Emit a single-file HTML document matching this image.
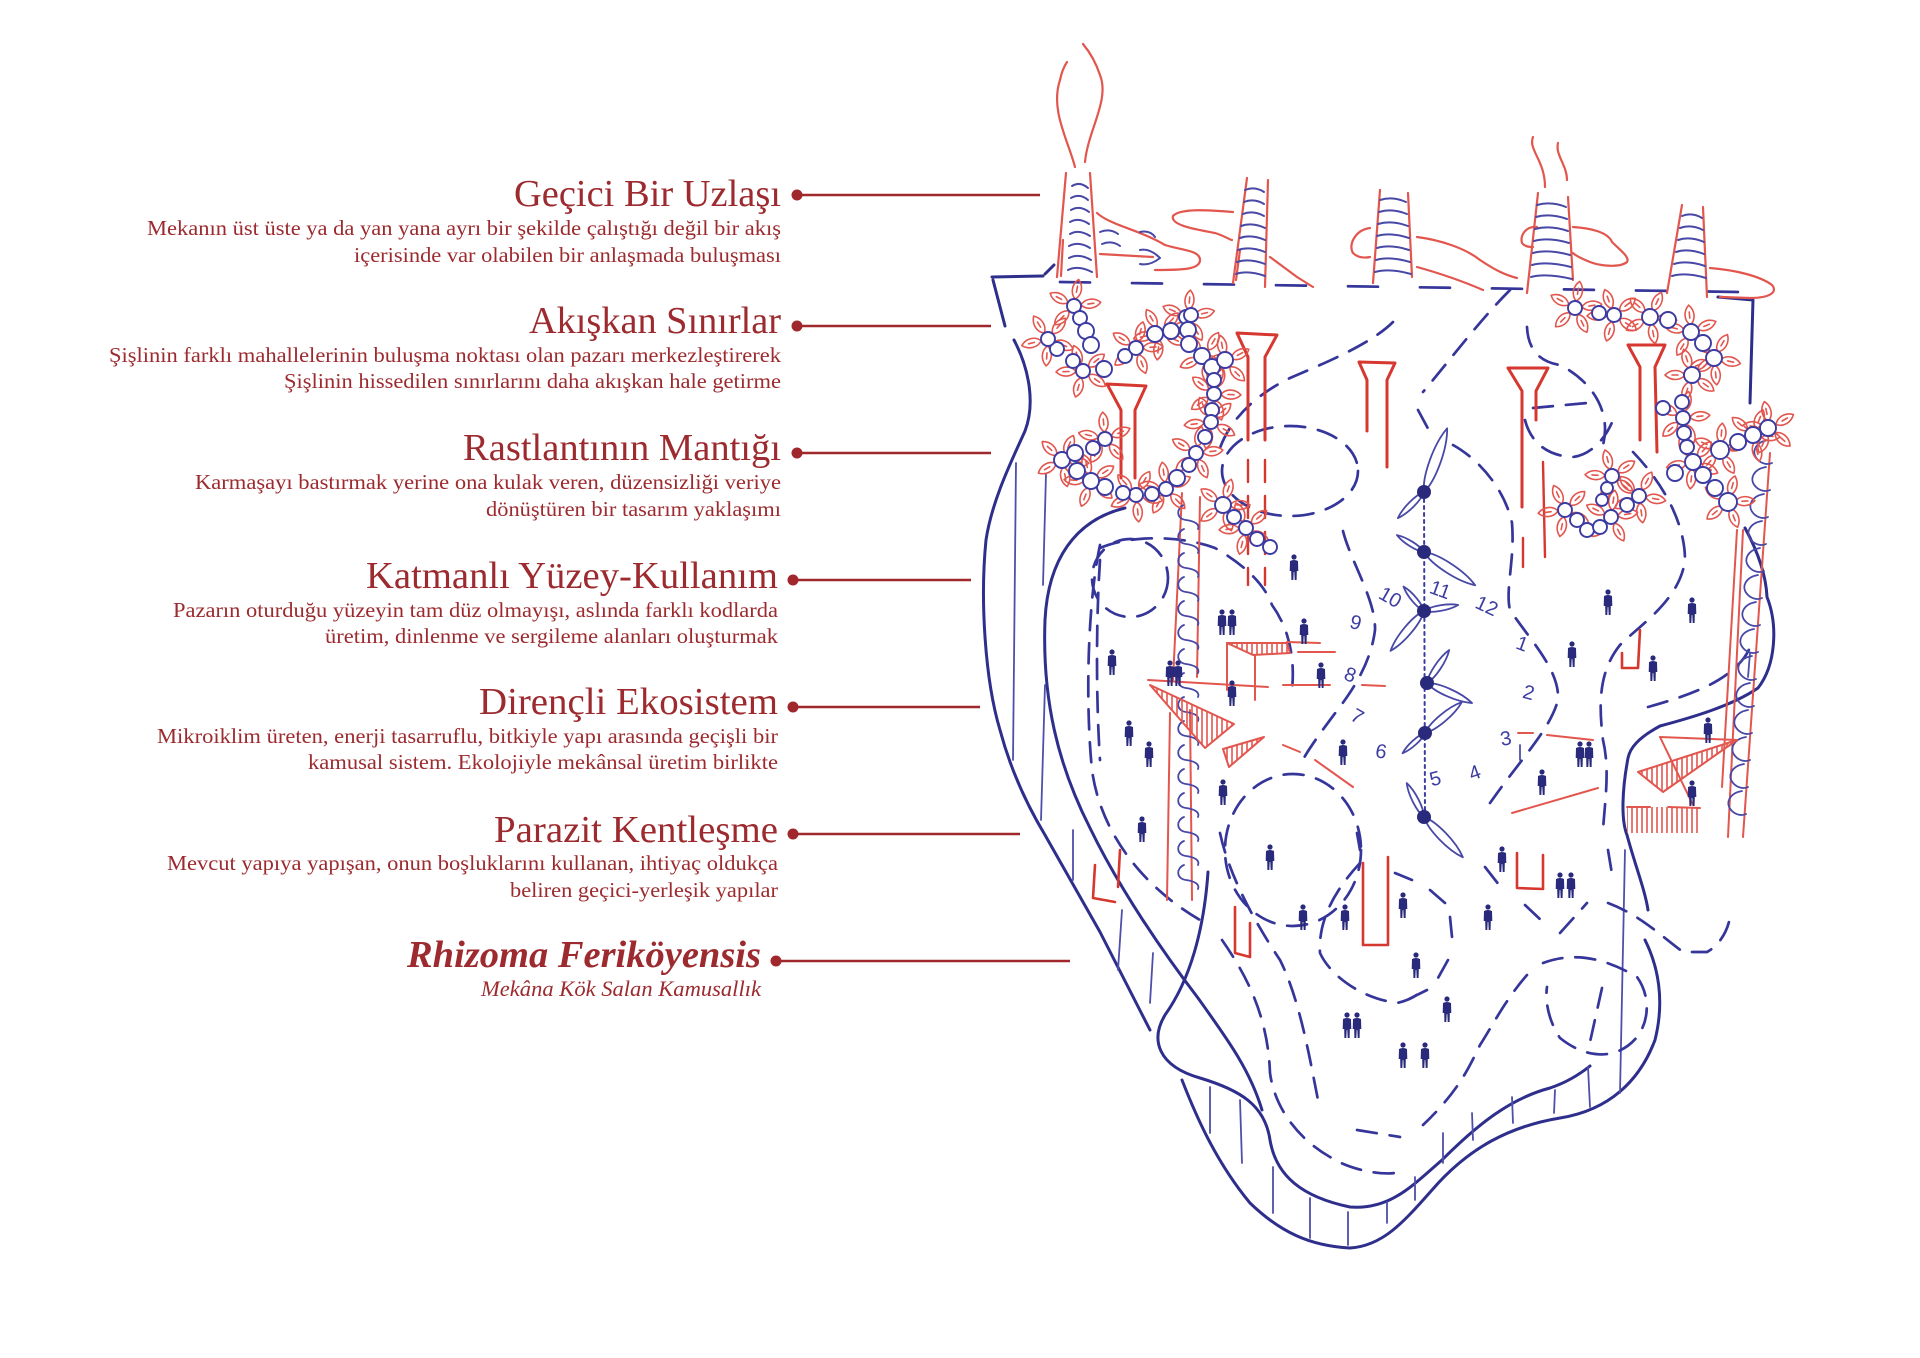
<!DOCTYPE html>
<html><head><meta charset="utf-8"><style>html,body{margin:0;padding:0;background:#fff}svg{display:block}</style></head>
<body>
<svg width="1920" height="1358" viewBox="0 0 1920 1358" xmlns="http://www.w3.org/2000/svg" xmlns:xlink="http://www.w3.org/1999/xlink">
<defs>
<pattern id="hatch" width="5" height="10" patternUnits="userSpaceOnUse"><line x1="2" y1="0" x2="2" y2="10" stroke="#e2564e" stroke-width="1.6"/></pattern>
<g id="pet"><path d="M0,-7 C6,-12 6,-21 0,-27 C-6,-21 -6,-12 0,-7 Z M0,-14 L0,-20" fill="none" stroke="#e2564e" stroke-width="1.6"/></g>
<g id="fl">
<use href="#pet" xlink:href="#pet"/>
<use href="#pet" xlink:href="#pet" transform="rotate(72)"/>
<use href="#pet" xlink:href="#pet" transform="rotate(144)"/>
<use href="#pet" xlink:href="#pet" transform="rotate(216)"/>
<use href="#pet" xlink:href="#pet" transform="rotate(288)"/>
</g>
<g id="pp" fill="#2a2a7c"><circle cx="0" cy="-23" r="2.6"/><path d="M-4,-19 Q0,-21 4,-19 L4.3,-9 L2.8,-9 L2.6,0 L0.7,0 L0.3,-8 L-0.3,-8 L-0.7,0 L-2.6,0 L-2.8,-9 L-4.3,-9 Z"/></g>
<path id="bl" d="M0,0 C6,-12 6,-40 0,-56 C-6,-40 -6,-12 0,0 Z" fill="none" stroke="#4848a6" stroke-width="1.8" vector-effect="non-scaling-stroke"/>
</defs>

<!-- ================= TEXT ================= -->
<g fill="#9c2a2e" font-family="'Liberation Serif', serif" text-anchor="end">
<text x="781" y="206" font-size="38" textLength="267" lengthAdjust="spacingAndGlyphs">Geçici Bir Uzlaşı</text>
<text x="781" y="235" font-size="21" textLength="634" lengthAdjust="spacingAndGlyphs">Mekanın üst üste ya da yan yana ayrı bir şekilde çalıştığı değil bir akış</text>
<text x="781" y="262" font-size="21" textLength="427" lengthAdjust="spacingAndGlyphs">içerisinde var olabilen bir anlaşmada buluşması</text>

<text x="781" y="333" font-size="38" textLength="252" lengthAdjust="spacingAndGlyphs">Akışkan Sınırlar</text>
<text x="781" y="362" font-size="21" textLength="672" lengthAdjust="spacingAndGlyphs">Şişlinin farklı mahallelerinin buluşma noktası olan pazarı merkezleştirerek</text>
<text x="781" y="388" font-size="21" textLength="497" lengthAdjust="spacingAndGlyphs">Şişlinin hissedilen sınırlarını daha akışkan hale getirme</text>

<text x="781" y="460" font-size="38" textLength="318" lengthAdjust="spacingAndGlyphs">Rastlantının Mantığı</text>
<text x="781" y="489" font-size="21" textLength="586" lengthAdjust="spacingAndGlyphs">Karmaşayı bastırmak yerine ona kulak veren, düzensizliği veriye</text>
<text x="781" y="516" font-size="21" textLength="295" lengthAdjust="spacingAndGlyphs">dönüştüren bir tasarım yaklaşımı</text>

<text x="778" y="588" font-size="38" textLength="412" lengthAdjust="spacingAndGlyphs">Katmanlı Yüzey-Kullanım</text>
<text x="778" y="617" font-size="21" textLength="605" lengthAdjust="spacingAndGlyphs">Pazarın oturduğu yüzeyin tam düz olmayışı, aslında farklı kodlarda</text>
<text x="778" y="643" font-size="21" textLength="453" lengthAdjust="spacingAndGlyphs">üretim, dinlenme ve sergileme alanları oluşturmak</text>

<text x="778" y="714" font-size="38" textLength="299" lengthAdjust="spacingAndGlyphs">Dirençli Ekosistem</text>
<text x="778" y="743" font-size="21" textLength="621" lengthAdjust="spacingAndGlyphs">Mikroiklim üreten, enerji tasarruflu, bitkiyle yapı arasında geçişli bir</text>
<text x="778" y="769" font-size="21" textLength="470" lengthAdjust="spacingAndGlyphs">kamusal sistem. Ekolojiyle mekânsal üretim birlikte</text>

<text x="778" y="842" font-size="38" textLength="284" lengthAdjust="spacingAndGlyphs">Parazit Kentleşme</text>
<text x="778" y="870" font-size="21" textLength="611" lengthAdjust="spacingAndGlyphs">Mevcut yapıya yapışan, onun boşluklarını kullanan, ihtiyaç oldukça</text>
<text x="778" y="897" font-size="21" textLength="268" lengthAdjust="spacingAndGlyphs">beliren geçici-yerleşik yapılar</text>

<text x="761" y="967" font-size="38" font-weight="bold" font-style="italic" textLength="354" lengthAdjust="spacingAndGlyphs">Rhizoma Feriköyensis</text>
<text x="761" y="996" font-size="22" font-style="italic" textLength="280" lengthAdjust="spacingAndGlyphs">Mekâna Kök Salan Kamusallık</text>
</g>

<g fill="#a0282c" stroke="none">
<circle cx="797" cy="195" r="5.5"/><circle cx="797" cy="326" r="5.5"/><circle cx="797" cy="453" r="5.5"/>
<circle cx="793" cy="580" r="5.5"/><circle cx="793" cy="707" r="5.5"/><circle cx="793" cy="834" r="5.5"/>
<circle cx="776" cy="961" r="5.5"/>
</g>
<g stroke="#a0282c" stroke-width="2.6">
<line x1="797" y1="195" x2="1040" y2="195"/>
<line x1="797" y1="326" x2="991" y2="326"/>
<line x1="797" y1="453" x2="991" y2="453"/>
<line x1="793" y1="580" x2="971" y2="580"/>
<line x1="793" y1="707" x2="980" y2="707"/>
<line x1="793" y1="834" x2="1020" y2="834"/>
<line x1="776" y1="961" x2="1070" y2="961"/>
</g>

<!-- ================= DRAWING ================= -->
<g fill="none" stroke-linecap="round" stroke-linejoin="round">

<!-- thick blue outlines -->
<g stroke="#2e2e8c" stroke-width="3">
<path d="M992,277 L1043,276 M1045,274 L1054,265"/>
<path d="M993,280 Q999,303 1005,326"/>
<path d="M1014,340 C1030,370 1035,405 1025,431 C1012,460 992,500 986,540 C980,600 985,680 1000,730 C1012,775 1030,810 1045,835 L1100,932 L1150,1030"/>
<path d="M1125,508 C1075,520 1048,560 1045,620 C1042,700 1058,765 1090,828 C1120,890 1165,955 1198,998 C1228,1040 1250,1070 1262,1110"/>
<path d="M1208,872 C1204,930 1190,980 1165,1015 C1150,1040 1158,1066 1200,1078 C1240,1090 1265,1105 1270,1140 C1276,1176 1302,1197 1350,1207 C1390,1210 1412,1186 1442,1160 C1480,1122 1512,1098 1550,1088 C1568,1082 1580,1074 1590,1066"/>
<path d="M1182,1080 C1196,1116 1216,1162 1250,1203 C1280,1232 1310,1246 1350,1248 C1382,1246 1402,1224 1432,1190 C1470,1146 1512,1126 1560,1118 C1610,1110 1640,1080 1655,1040 C1665,1000 1658,966 1645,940"/>
<path d="M1745,528 C1758,552 1766,575 1767,597 C1778,625 1776,665 1758,688 C1732,706 1690,718 1660,726 C1638,738 1630,748 1628,758 C1622,790 1621,820 1627,835 C1635,865 1645,890 1648,910"/>
<path d="M1718,297 L1753,300 L1750,403"/>
</g>

<!-- thin blue lines -->
<g stroke="#4f4fab" stroke-width="1.8">
<path d="M1016,463 L1013,760"/>
<path d="M1046,474 L1043,585 M1045,685 L1041,820"/>
<path d="M1073,830 L1073,880 M1122,910 L1118,970 M1153,953 L1150,1003"/>
<path d="M1210,1087 L1210,1133 M1240,1100 L1242,1163 M1273,1167 L1273,1213 M1310,1198 L1310,1238 M1348,1212 L1348,1245 M1387,1202 L1387,1223"/>
<path d="M1588,1067 L1590,1107 M1555,1090 L1554,1113 M1512,1097 L1513,1123 M1472,1113 L1473,1140 M1443,1133 L1443,1163 M1415,1177 L1415,1200"/>
<path d="M1625,850 L1620,1093"/>
<path d="M1750,653 L1748,677 M1520,745 L1520,760"/>
</g>

<!-- dashed blue -->
<g stroke="#35359a" stroke-width="2.7" stroke-dasharray="20 13">
<path d="M1060,282 L1740,292" stroke-dasharray="30 42"/>
<path d="M1510,290 C1480,320 1450,360 1423,392"/>
<path d="M1393,322 C1370,345 1320,365 1290,378 C1255,395 1230,420 1220,448"/>
<path d="M1527,327 C1528,350 1540,362 1560,365 C1590,380 1612,410 1603,445"/>
<path d="M1418,410 L1432,436 M1533,408 L1587,403"/>
<ellipse cx="1290" cy="471" rx="68" ry="45"/>
<ellipse cx="1130" cy="578" rx="38" ry="39"/>
<path d="M1100,545 C1088,600 1085,700 1092,770 C1100,830 1140,885 1200,920"/>
<path d="M1100,548 C1130,535 1180,535 1215,548 C1245,565 1265,585 1272,605 C1290,630 1295,660 1292,690"/>
<path d="M1453,445 C1480,460 1505,490 1512,523 C1515,560 1505,590 1510,610 C1530,640 1560,670 1558,700 C1550,730 1520,760 1490,803"/>
<path d="M1525,420 C1530,440 1545,456 1573,457 C1590,455 1605,440 1613,420"/>
<path d="M1633,452 C1660,480 1685,520 1685,560 C1680,600 1640,625 1620,645 C1600,670 1598,700 1603,740 C1610,770 1605,800 1603,830"/>
<path d="M1648,707 C1680,698 1710,688 1730,672 C1745,660 1750,650 1752,640"/>
<path d="M1343,531 C1350,560 1376,600 1375,630 C1370,670 1345,700 1330,720 C1315,740 1305,755 1300,765"/>
<ellipse cx="1293" cy="850" rx="68" ry="76"/>
<path d="M1220,833 C1230,880 1260,930 1280,960 C1300,1000 1310,1060 1318,1100"/>
<path d="M1222,940 C1250,980 1268,1020 1270,1073 C1275,1110 1300,1140 1330,1157 C1350,1170 1380,1175 1395,1173"/>
<path d="M1357,1130 L1400,1137"/>
<path d="M1360,863 C1335,890 1318,920 1320,953 C1330,975 1360,998 1397,1003 C1410,1000 1418,995 1422,990"/>
<path d="M1395,873 L1412,880 M1357,833 L1360,850"/>
<path d="M1543,963 C1570,953 1600,955 1637,977 C1650,995 1650,1020 1637,1037 C1620,1058 1590,1062 1560,1038 C1548,1020 1545,1000 1547,987"/>
<path d="M1527,975 C1505,1000 1490,1030 1480,1045 C1470,1065 1460,1090 1423,1125"/>
<path d="M1602,988 L1590,1042"/>
<path d="M1608,903 C1640,915 1660,935 1683,952 L1707,952 C1720,945 1728,930 1730,917"/>
<path d="M1608,850 L1613,880 M1485,867 L1503,890 M1525,905 L1543,922 M1560,933 L1587,903 M1450,917 L1452,937 M1430,890 L1445,903 M1448,960 L1438,978 M1427,990 L1407,1000"/>
<path d="M1100,560 C1096,620 1096,700 1100,760"/>
</g>

<!-- chimneys -->
<g stroke="#e2564e" stroke-width="2.2">
<path d="M1066,173 L1057,277 M1063,240 L1061,276 M1090,173 L1097,277"/>
<path d="M1075,167 C1068,140 1050,110 1060,80 C1062,70 1065,65 1067,62 M1085,162 C1088,130 1110,100 1100,75 C1095,60 1088,50 1083,44"/>
<path d="M1097,213 C1110,225 1140,230 1165,245 C1180,250 1200,250 1200,260 C1200,270 1180,270 1155,270 M1100,254 L1153,257"/>
<path d="M1233,212 C1210,210 1180,208 1173,216 C1170,226 1200,230 1215,233 C1225,236 1230,240 1232,240"/>
<path d="M1247,178 L1233,283 M1240,250 L1236,280 M1268,180 L1265,287"/>
<path d="M1270,257 L1297,277 L1313,287"/>
<path d="M1380,190 L1373,283 M1408,193 L1412,277"/>
<path d="M1370,228 C1355,230 1348,245 1353,253 C1358,258 1365,258 1370,257"/>
<path d="M1417,237 C1440,240 1465,248 1480,260 C1495,270 1505,275 1517,278 M1417,267 C1435,272 1460,280 1483,290"/>
<path d="M1538,193 L1527,293 M1568,197 L1573,280"/>
<path d="M1533,137 C1528,150 1545,160 1545,187 M1558,143 C1555,155 1567,165 1567,180"/>
<path d="M1537,227 C1525,226 1520,236 1522,243 C1525,247 1530,247 1533,247"/>
<path d="M1573,227 C1590,228 1608,232 1612,242 C1620,250 1630,257 1627,262 C1620,268 1600,266 1590,262 C1580,258 1575,255 1573,253"/>
<path d="M1682,205 L1667,293 M1703,207 L1707,297"/>
<path d="M1710,268 C1735,270 1760,276 1772,285 C1778,292 1770,298 1750,298 L1720,297"/>
</g>
<g stroke="#4848a6" stroke-width="2">
<path d="M1072,186 Q1080,181 1088,188 M1071,198 Q1080,193 1088,200 M1071,210 Q1080,205 1089,212 M1070,222 Q1079,217 1089,224 M1070,234 Q1079,229 1090,236 M1069,246 Q1079,241 1090,248 M1069,258 Q1079,253 1091,260 M1068,270 Q1078,265 1092,272"/>
<path d="M1245,190 Q1255,186 1264,192 M1244,202 Q1254,198 1264,204 M1243,214 Q1253,210 1264,216 M1241,226 Q1252,222 1265,228 M1240,238 Q1251,234 1265,240 M1238,250 Q1250,246 1265,252 M1237,262 Q1249,258 1265,264 M1236,274 Q1248,270 1265,276"/>
<path d="M1380,200 Q1393,196 1406,202 M1379,212 Q1392,208 1407,214 M1378,224 Q1392,220 1408,226 M1377,236 Q1391,232 1409,238 M1377,248 Q1391,244 1409,250 M1376,260 Q1390,256 1410,262 M1375,272 Q1390,268 1411,274"/>
<path d="M1537,205 Q1551,201 1566,207 M1536,217 Q1550,213 1567,219 M1535,229 Q1550,225 1568,231 M1534,241 Q1549,237 1569,243 M1533,253 Q1548,249 1570,255 M1532,265 Q1547,261 1571,267 M1531,277 Q1546,273 1572,279"/>
<path d="M1682,216 Q1692,212 1702,218 M1680,228 Q1691,224 1703,230 M1678,240 Q1690,236 1704,242 M1676,252 Q1688,248 1704,254 M1674,264 Q1687,260 1705,266 M1672,276 Q1686,272 1706,278"/>
<path d="M1100,232 Q1110,228 1118,234 M1140,232 Q1150,230 1155,237 M1102,244 Q1112,240 1120,246 M1140,250 Q1150,248 1160,258 Q1150,266 1140,264"/>
</g>

<!-- goblets -->
<g stroke="#d6372f" stroke-width="3">
<path d="M1107,384 L1146,386 L1135,410 L1135,478 M1107,384 L1121,410 L1121,478"/>
<path d="M1237,333 L1277,335 L1265,357 L1265,440 M1237,333 L1248,357 L1248,440"/>
<path d="M1248,460 L1248,585 M1265,460 L1265,585" stroke-dasharray="22 14" stroke-width="2.4"/>
<path d="M1359,362 L1395,363 L1387,380 L1387,467 M1359,362 L1367,380 L1367,431"/>
<path d="M1508,368 L1548,368 L1536,391 L1536,420 M1508,368 L1522,391 L1522,507"/>
<path d="M1543,462 L1545,557 M1523,538 L1523,567" stroke-width="2.4"/>
<path d="M1628,345 L1665,345 L1655,367 L1657,452 M1628,345 L1640,367 L1640,440"/>
</g>

<!-- ladders -->
<g stroke="#e2564e" stroke-width="2">
<path d="M1182,493 L1173,680 M1200,497 L1197,677 M1170,713 L1167,900 M1190,710 L1192,900"/>
<path d="M1770,453 L1743,837 M1743,530 L1728,837 M1737,530 L1722,787"/>
</g>
<g stroke="#4848a6" stroke-width="1.8">
<path d="M1184,505 c-8,3 -8,14 2,15 c8,1 14,4 12,9 m-14,0 c-8,3 -8,14 2,15 c8,1 14,4 12,9 m-14,0 c-8,3 -8,14 2,15 c8,1 14,4 12,9 m-14,0 c-8,3 -8,14 2,15 c8,1 14,4 12,9 m-14,0 c-8,3 -8,14 2,15 c8,1 14,4 12,9 m-14,0 c-8,3 -8,14 2,15 c8,1 14,4 12,9 m-14,0 c-8,3 -8,14 2,15 c8,1 14,4 12,9 m-14,0 c-8,3 -8,14 2,15 c8,1 14,4 12,9 m-14,0 c-8,3 -8,14 2,15 c8,1 14,4 12,9 m-14,0 c-8,3 -8,14 2,15 c8,1 14,4 12,9 m-14,0 c-8,3 -8,14 2,15 c8,1 14,4 12,9 m-14,0 c-8,3 -8,14 2,15 c8,1 14,4 12,9 m-14,0 c-8,3 -8,14 2,15 c8,1 14,4 12,9 m-14,0 c-8,3 -8,14 2,15 c8,1 14,4 12,9 m-14,0 c-8,3 -8,14 2,15 c8,1 14,4 12,9 m-14,0 c-8,3 -8,14 2,15 c8,1 14,4 12,9"/>
<path d="M1768,440 c-12,2 -18,12 -10,20 c4,4 10,5 14,3 m-6,4 c-12,2 -18,12 -10,20 c4,4 10,5 14,3 m-6,4 c-12,2 -18,12 -10,20 c4,4 10,5 14,3 m-6,4 c-12,2 -18,12 -10,20 c4,4 10,5 14,3 m-6,4 c-12,2 -18,12 -10,20 c4,4 10,5 14,3 m-6,4 c-12,2 -18,12 -10,20 c4,4 10,5 14,3 m-6,4 c-12,2 -18,12 -10,20 c4,4 10,5 14,3 m-6,4 c-12,2 -18,12 -10,20 c4,4 10,5 14,3 m-6,4 c-12,2 -18,12 -10,20 c4,4 10,5 14,3 m-6,4 c-12,2 -18,12 -10,20 c4,4 10,5 14,3 m-6,4 c-12,2 -18,12 -10,20 c4,4 10,5 14,3 m-6,4 c-12,2 -18,12 -10,20 c4,4 10,5 14,3 m-6,4 c-12,2 -18,12 -10,20 c4,4 10,5 14,3 m-6,4 c-12,2 -18,12 -10,20 c4,4 10,5 14,3"/>
</g>

<!-- red platforms -->
<g stroke="#e2564e" stroke-width="2">
<path d="M1150,685 L1234,724 L1205,748 Z" fill="url(#hatch)"/>
<path d="M1223,749 L1264,737 L1229,767 Z" fill="url(#hatch)"/>
<path d="M1227,643 L1287,643 L1290,653 L1253,655 Z" fill="url(#hatch)"/>
<path d="M1227,643 L1227,690 M1255,655 L1255,700 M1148,680 L1268,687 M1287,642 L1320,643 M1298,652 L1335,652 M1283,685 L1330,685 M1362,685 L1385,686"/>
<path d="M1283,745 L1300,752 M1315,760 L1353,787"/>
<path d="M1638,772 L1737,740 L1663,792 Z" fill="url(#hatch)"/>
<path d="M1660,737 L1737,740 M1518,733 L1533,733 M1547,735 L1593,740 M1512,813 L1598,788"/>
<path d="M1627,807 L1667,807 L1667,833 L1627,833 Z" fill="url(#hatch)" stroke="none"/>
<path d="M1667,808 L1700,808 L1700,833 L1667,833 Z" fill="url(#hatch)" stroke="none"/>
<path d="M1627,807 L1650,807 M1668,807 L1700,808 M1660,737 L1693,805"/>
</g>
<g stroke="#d6372f" stroke-width="2.6">
<path d="M1622,668 L1638,668 L1640,630 M1622,653 L1622,668"/>
<path d="M1517,853 L1517,888 L1543,889 L1543,855"/>
<path d="M1235,907 L1235,953 L1250,957 L1250,923"/>
<path d="M1363,863 L1363,945 L1388,945 L1388,857"/>
<path d="M1095,865 L1093,898 L1115,902 M1120,850 L1118,887"/>
</g>

<!-- flowers (leaves) -->
<g>
<use href="#fl" xlink:href="#fl" transform="translate(1074,306) rotate(10)"/>
<use href="#fl" xlink:href="#fl" transform="translate(1048,339) rotate(40)"/>
<use href="#fl" xlink:href="#fl" transform="translate(1083,371) rotate(-20)"/>
<use href="#fl" xlink:href="#fl" transform="translate(1136,348) rotate(15)"/>
<use href="#fl" xlink:href="#fl" transform="translate(1160,333) rotate(-30)"/>
<use href="#fl" xlink:href="#fl" transform="translate(1188,317) rotate(5)"/>
<use href="#fl" xlink:href="#fl" transform="translate(1205,356) rotate(30)"/>
<use href="#fl" xlink:href="#fl" transform="translate(1225,362) rotate(-10)"/>
<use href="#fl" xlink:href="#fl" transform="translate(1214,394) rotate(20)"/>
<use href="#fl" xlink:href="#fl" transform="translate(1211,422) rotate(-25)"/>
<use href="#fl" xlink:href="#fl" transform="translate(1196,453) rotate(12)"/>
<use href="#fl" xlink:href="#fl" transform="translate(1166,489) rotate(-8)"/>
<use href="#fl" xlink:href="#fl" transform="translate(1136,495) rotate(30)"/>
<use href="#fl" xlink:href="#fl" transform="translate(1091,481) rotate(-15)"/>
<use href="#fl" xlink:href="#fl" transform="translate(1062,460) rotate(25)"/>
<use href="#fl" xlink:href="#fl" transform="translate(1105,439) rotate(-5)"/>
<use href="#fl" xlink:href="#fl" transform="translate(1223,505) rotate(18)"/>
<use href="#fl" xlink:href="#fl" transform="translate(1246,528) rotate(-22)"/>
<use href="#fl" xlink:href="#fl" transform="translate(1575,308) rotate(10)"/>
<use href="#fl" xlink:href="#fl" transform="translate(1614,315) rotate(-20)"/>
<use href="#fl" xlink:href="#fl" transform="translate(1650,317) rotate(25)"/>
<use href="#fl" xlink:href="#fl" transform="translate(1691,332) rotate(-5)"/>
<use href="#fl" xlink:href="#fl" transform="translate(1714,358) rotate(30)"/>
<use href="#fl" xlink:href="#fl" transform="translate(1692,375) rotate(-18)"/>
<use href="#fl" xlink:href="#fl" transform="translate(1683,418) rotate(12)"/>
<use href="#fl" xlink:href="#fl" transform="translate(1693,462) rotate(-30)"/>
<use href="#fl" xlink:href="#fl" transform="translate(1720,450) rotate(5)"/>
<use href="#fl" xlink:href="#fl" transform="translate(1753,435) rotate(22)"/>
<use href="#fl" xlink:href="#fl" transform="translate(1770,428) rotate(-12)"/>
<use href="#fl" xlink:href="#fl" transform="translate(1728,502) rotate(15)"/>
<use href="#fl" xlink:href="#fl" transform="translate(1565,510) rotate(-25)"/>
<use href="#fl" xlink:href="#fl" transform="translate(1611,517) rotate(8)"/>
<use href="#fl" xlink:href="#fl" transform="translate(1612,476) rotate(-15)"/>
<use href="#fl" xlink:href="#fl" transform="translate(1639,496) rotate(28)"/>
</g>

<!-- beads -->
<g stroke="#3b3ba2" stroke-width="1.9" fill="#fff">
<circle cx="1074" cy="306" r="7"/><circle cx="1080" cy="318" r="7"/><circle cx="1086" cy="331" r="8"/><circle cx="1091" cy="345" r="8"/>
<circle cx="1104" cy="369" r="8"/><circle cx="1083" cy="371" r="7"/><circle cx="1073" cy="361" r="7"/><circle cx="1057" cy="349" r="7"/><circle cx="1048" cy="339" r="7"/>
<circle cx="1125" cy="356" r="7"/><circle cx="1136" cy="348" r="7"/><circle cx="1155" cy="334" r="8"/><circle cx="1171" cy="331" r="8"/>
<circle cx="1186" cy="317" r="7"/><circle cx="1191" cy="315" r="7"/><circle cx="1188" cy="330" r="8"/><circle cx="1189" cy="344" r="8"/>
<circle cx="1202" cy="356" r="8"/><circle cx="1212" cy="367" r="8"/><circle cx="1225" cy="360" r="8"/><circle cx="1214" cy="380" r="7"/>
<circle cx="1214" cy="394" r="7"/><circle cx="1212" cy="410" r="7"/><circle cx="1211" cy="422" r="7"/><circle cx="1205" cy="437" r="7"/>
<circle cx="1196" cy="453" r="7"/><circle cx="1189" cy="465" r="7"/><circle cx="1177" cy="478" r="8"/><circle cx="1166" cy="489" r="7"/>
<circle cx="1152" cy="494" r="7"/><circle cx="1136" cy="495" r="7"/><circle cx="1123" cy="493" r="7"/><circle cx="1105" cy="487" r="8"/>
<circle cx="1091" cy="481" r="8"/><circle cx="1077" cy="471" r="8"/><circle cx="1062" cy="460" r="8"/><circle cx="1075" cy="453" r="8"/>
<circle cx="1093" cy="448" r="7"/><circle cx="1105" cy="439" r="7"/>
<circle cx="1223" cy="505" r="8"/><circle cx="1234" cy="517" r="7"/><circle cx="1246" cy="528" r="7"/><circle cx="1257" cy="539" r="7"/><circle cx="1270" cy="547" r="7"/>
<circle cx="1575" cy="308" r="7"/><circle cx="1599" cy="313" r="7"/><circle cx="1614" cy="315" r="7"/><circle cx="1650" cy="317" r="8"/><circle cx="1668" cy="320" r="8"/>
<circle cx="1691" cy="332" r="8"/><circle cx="1703" cy="343" r="8"/><circle cx="1714" cy="358" r="8"/><circle cx="1692" cy="375" r="8"/>
<circle cx="1663" cy="408" r="7"/><circle cx="1682" cy="402" r="7"/><circle cx="1683" cy="418" r="7"/><circle cx="1684" cy="433" r="7"/><circle cx="1687" cy="447" r="7"/>
<circle cx="1693" cy="462" r="8"/><circle cx="1675" cy="473" r="8"/><circle cx="1703" cy="475" r="8"/><circle cx="1715" cy="488" r="8"/><circle cx="1728" cy="502" r="9"/>
<circle cx="1720" cy="450" r="9"/><circle cx="1738" cy="442" r="8"/><circle cx="1753" cy="435" r="8"/><circle cx="1768" cy="428" r="8"/>
<circle cx="1565" cy="510" r="7"/><circle cx="1577" cy="520" r="7"/><circle cx="1587" cy="530" r="7"/><circle cx="1600" cy="527" r="7"/>
<circle cx="1611" cy="517" r="7"/><circle cx="1627" cy="505" r="7"/><circle cx="1639" cy="496" r="7"/><circle cx="1612" cy="476" r="7"/>
<circle cx="1607" cy="488" r="6"/><circle cx="1602" cy="500" r="6"/>
</g>

<!-- turbines -->
<path d="M1424,492 L1425,817" stroke="#3b3ba2" stroke-width="2" stroke-dasharray="3 4"/>
<g>
<use href="#bl" xlink:href="#bl" transform="translate(1424,492) rotate(20) scale(1.21)"/>
<use href="#bl" xlink:href="#bl" transform="translate(1424,492) rotate(225) scale(0.66)"/>
<use href="#bl" xlink:href="#bl" transform="translate(1424,552) rotate(302) scale(0.57)"/>
<use href="#bl" xlink:href="#bl" transform="translate(1424,552) rotate(123) scale(1.09)"/>
<use href="#bl" xlink:href="#bl" transform="translate(1424,611) rotate(-40) scale(0.57)"/>
<use href="#bl" xlink:href="#bl" transform="translate(1424,611) rotate(220) scale(0.93)"/>
<use href="#bl" xlink:href="#bl" transform="translate(1424,611) rotate(80) scale(0.62)"/>
<use href="#bl" xlink:href="#bl" transform="translate(1427,683) rotate(34) scale(0.71)"/>
<use href="#bl" xlink:href="#bl" transform="translate(1427,683) rotate(114) scale(0.88)"/>
<use href="#bl" xlink:href="#bl" transform="translate(1425,733) rotate(50) scale(0.86)"/>
<use href="#bl" xlink:href="#bl" transform="translate(1425,733) rotate(228) scale(0.54)"/>
<use href="#bl" xlink:href="#bl" transform="translate(1424,817) rotate(-27) scale(0.68)"/>
<use href="#bl" xlink:href="#bl" transform="translate(1424,817) rotate(136) scale(1.0)"/>
</g>
<g fill="#2a2a7c" stroke="none">
<circle cx="1424" cy="492" r="7"/><circle cx="1424" cy="552" r="7"/><circle cx="1424" cy="611" r="7"/>
<circle cx="1427" cy="683" r="7"/><circle cx="1425" cy="733" r="7"/><circle cx="1424" cy="817" r="7"/>
</g>
</g>

<!-- clock numbers -->
<g fill="#3d3da2" font-family="'Liberation Sans', sans-serif" font-size="20" text-anchor="middle">
<text transform="translate(1387,603) rotate(30)">10</text>
<text transform="translate(1438,596) rotate(20)">11</text>
<text transform="translate(1484,612) rotate(25)">12</text>
<text transform="translate(1520,650) rotate(20)">1</text>
<text transform="translate(1527,699) rotate(15)">2</text>
<text transform="translate(1507,745) rotate(-10)">3</text>
<text transform="translate(1477,779) rotate(-20)">4</text>
<text transform="translate(1437,785) rotate(-15)">5</text>
<text transform="translate(1380,758) rotate(10)">6</text>
<text transform="translate(1354,722) rotate(30)">7</text>
<text transform="translate(1348,681) rotate(20)">8</text>
<text transform="translate(1354,629) rotate(15)">9</text>
</g>

<!-- people -->
<g>
<use href="#pp" xlink:href="#pp" x="1294" y="580"/>
<use href="#pp" xlink:href="#pp" x="1222" y="635"/>
<use href="#pp" xlink:href="#pp" x="1232" y="635"/>
<use href="#pp" xlink:href="#pp" x="1304" y="644"/>
<use href="#pp" xlink:href="#pp" x="1112" y="675"/>
<use href="#pp" xlink:href="#pp" x="1170" y="686"/>
<use href="#pp" xlink:href="#pp" x="1178" y="686"/>
<use href="#pp" xlink:href="#pp" x="1321" y="688"/>
<use href="#pp" xlink:href="#pp" x="1232" y="706"/>
<use href="#pp" xlink:href="#pp" x="1129" y="746"/>
<use href="#pp" xlink:href="#pp" x="1149" y="767"/>
<use href="#pp" xlink:href="#pp" x="1343" y="765"/>
<use href="#pp" xlink:href="#pp" x="1223" y="805"/>
<use href="#pp" xlink:href="#pp" x="1142" y="842"/>
<use href="#pp" xlink:href="#pp" x="1270" y="870"/>
<use href="#pp" xlink:href="#pp" x="1303" y="930"/>
<use href="#pp" xlink:href="#pp" x="1345" y="930"/>
<use href="#pp" xlink:href="#pp" x="1403" y="918"/>
<use href="#pp" xlink:href="#pp" x="1416" y="978"/>
<use href="#pp" xlink:href="#pp" x="1447" y="1022"/>
<use href="#pp" xlink:href="#pp" x="1347" y="1038"/>
<use href="#pp" xlink:href="#pp" x="1357" y="1038"/>
<use href="#pp" xlink:href="#pp" x="1403" y="1068"/>
<use href="#pp" xlink:href="#pp" x="1425" y="1068"/>
<use href="#pp" xlink:href="#pp" x="1572" y="667"/>
<use href="#pp" xlink:href="#pp" x="1608" y="615"/>
<use href="#pp" xlink:href="#pp" x="1692" y="623"/>
<use href="#pp" xlink:href="#pp" x="1653" y="681"/>
<use href="#pp" xlink:href="#pp" x="1708" y="743"/>
<use href="#pp" xlink:href="#pp" x="1580" y="767"/>
<use href="#pp" xlink:href="#pp" x="1589" y="767"/>
<use href="#pp" xlink:href="#pp" x="1542" y="795"/>
<use href="#pp" xlink:href="#pp" x="1692" y="806"/>
<use href="#pp" xlink:href="#pp" x="1502" y="872"/>
<use href="#pp" xlink:href="#pp" x="1560" y="898"/>
<use href="#pp" xlink:href="#pp" x="1571" y="898"/>
<use href="#pp" xlink:href="#pp" x="1488" y="930"/>
</g>
</svg>
</body></html>
